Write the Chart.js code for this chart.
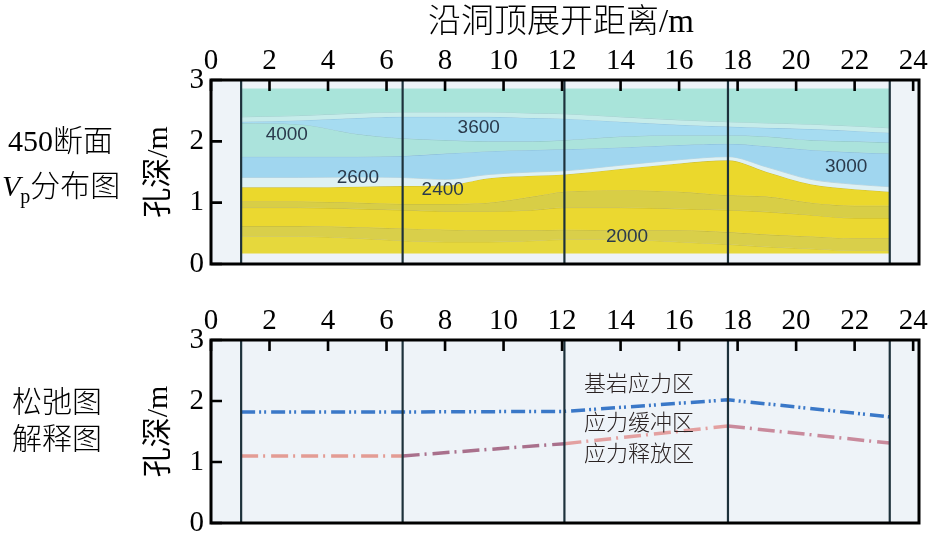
<!DOCTYPE html>
<html>
<head>
<meta charset="utf-8">
<script src="https://cdn.jsdelivr.net/npm/chart.js@4.4.0/dist/chart.umd.min.js"></script>
<style>
  html, body { margin: 0; padding: 0; background: #fff; }
  #wrap { position: relative; width: 929px; height: 533px; overflow: hidden;
          font-family: "Liberation Serif", serif; color: #000; }
  .box { position: absolute; left: 0; width: 929px; }
  #topBox { top: 0; height: 290px; }
  #botBox { top: 260px; height: 273px; }
  .lbl { position: absolute; white-space: nowrap; line-height: 1; font-size: 30px; }
  .cjk { font-family: "Noto Sans CJK SC", sans-serif; font-weight: 300; }
</style>
</head>
<body>
<div id="wrap">
  <div class="box" id="topBox"><canvas id="vpChart" width="929" height="290"></canvas></div>
  <div class="box" id="botBox"><canvas id="zoneChart" width="929" height="273"></canvas></div>
  <div class="lbl" style="left:428px;top:2px;font-size:33px;"><span class="cjk">沿洞顶展开距离</span>/m</div>
  <div class="lbl" style="left:8px;top:123px;">450<span class="cjk">断面</span></div>
  <div class="lbl" style="left:2px;top:168px;"><i>V</i><sub style="font-size:20px;">p</sub><span class="cjk">分布图</span></div>
  <div class="lbl cjk" style="left:12px;top:384px;">松弛图</div>
  <div class="lbl cjk" style="left:12px;top:421px;">解释图</div>
</div>
<script>
// Axis ticks (m)
const xTicks = [0, 2, 4, 6, 8, 10, 12, 14, 16, 18, 20, 22, 24];
const yTicks = [0, 1, 2, 3];

// Borehole positions along the tunnel crown (m)
const boreholeX = [1.03, 6.55, 12.08, 17.67, 23.2];

// Velocity section: depth (m) of each band boundary at these stations
const stationX    = [1.03, 3,    5,    6.55, 8,    9.5,  11,   12.08, 14,   16,   17.67, 19,   20.5, 22,   23.2];
const sectionTop  = [2.86, 2.86, 2.86, 2.86, 2.86, 2.86, 2.86, 2.86,  2.86, 2.86, 2.86,  2.86, 2.86, 2.86, 2.86];
const streakTop   = [2.40, 2.42, 2.46, 2.48, 2.48, 2.48, 2.46, 2.45,  2.40, 2.35, 2.32,  2.30, 2.28, 2.25, 2.22];
const v3600Top    = [2.32, 2.34, 2.38, 2.40, 2.40, 2.40, 2.38, 2.37,  2.32, 2.27, 2.24,  2.22, 2.20, 2.17, 2.14];
const v3600Bottom = [2.30, 2.28, 2.12, 2.05, 2.02, 2.00, 2.00, 2.02,  2.08, 2.10, 2.10,  2.08, 2.02, 2.00, 1.98];
const v3000Top    = [1.75, 1.75, 1.75, 1.76, 1.80, 1.84, 1.86, 1.87,  1.90, 1.94, 1.96,  1.92, 1.86, 1.82, 1.80];
const v2600Top    = [1.41, 1.41, 1.42, 1.41, 1.38, 1.46, 1.50, 1.52,  1.61, 1.70, 1.75,  1.58, 1.38, 1.30, 1.26];
const v2400Top    = [1.25, 1.25, 1.26, 1.27, 1.28, 1.40, 1.44, 1.46,  1.55, 1.64, 1.69,  1.50, 1.30, 1.22, 1.18];
const v2200Top    = [1.02, 1.02, 1.00, 0.98, 0.98, 1.00, 1.10, 1.18,  1.20, 1.18, 1.12,  1.10, 1.00, 0.95, 0.95];
const v2200Bottom = [0.92, 0.92, 0.90, 0.88, 0.86, 0.86, 0.88, 0.92,  0.92, 0.90, 0.88,  0.85, 0.80, 0.75, 0.75];
const v2000Top    = [0.62, 0.62, 0.60, 0.58, 0.56, 0.55, 0.55, 0.56,  0.55, 0.55, 0.52,  0.48, 0.45, 0.42, 0.42];
const v2000Bottom = [0.45, 0.45, 0.42, 0.38, 0.36, 0.36, 0.38, 0.40,  0.40, 0.36, 0.32,  0.28, 0.25, 0.22, 0.22];
const sectionBase = [0.17, 0.17, 0.17, 0.17, 0.17, 0.17, 0.17, 0.17,  0.17, 0.17, 0.17,  0.17, 0.17, 0.17, 0.17];

// Contour annotations (m/s) and where they sit in the section
const contourValues = ['4000', '3600', '2600', '2400', '2000', '3000'];
const contourX = [2.59, 9.15, 5.02, 7.92, 14.22, 21.71];
const contourY = [2.10, 2.22, 1.40, 1.21, 0.44, 1.58];

// Loosening zone interpretation: boundary depth (m) at each borehole
const bedrockBoundary = [1.82, 1.82, 1.83, 2.02, 1.74];
const releaseBoundary = [1.10, 1.10, 1.30, 1.59, 1.31];
const zoneNames = ['基岩应力区', '应力缓冲区', '应力释放区'];
const zoneLabelX = 14.63;
const zoneLabelY = [2.30, 1.66, 1.16];

// ---- styling ----
const boundaries = [sectionTop, streakTop, v3600Top, v3600Bottom, v3000Top, v2600Top,
                    v2400Top, v2200Top, v2200Bottom, v2000Top, v2000Bottom, sectionBase];
const bandFill = ['#a9e4da', '#c6ecea', '#a6dcf1', '#abe3dc', '#a0d6ef', '#def1f4',
                  '#ebd82c', '#d8ce46', '#ebd830', '#d9cf4a', '#e6d83c'];
const contourLine = ['rgba(0,0,0,0)', 'rgba(110,170,170,0.45)', 'rgba(120,170,200,0.5)',
                     'rgba(110,160,180,0.5)', 'rgba(110,160,190,0.5)', 'rgba(140,170,180,0.4)',
                     'rgba(170,160,60,0.5)', 'rgba(160,150,50,0.5)', 'rgba(160,150,50,0.5)',
                     'rgba(160,150,50,0.5)', 'rgba(160,150,60,0.4)', 'rgba(0,0,0,0)'];
const SERIF = '"Liberation Serif", serif';
const SERIF_CJK = '"Liberation Serif", "Noto Sans CJK SC", serif';
const PLOT_BG = '#eef3f8';

const toPts = (xs, ys) => xs.map((x, i) => ({ x, y: ys[i] }));

function boreholeSets() {
  return boreholeX.map(bx => ({
    type: 'line',
    data: [{ x: bx, y: 0 }, { x: bx, y: 3 }],
    borderColor: '#1d313b', borderWidth: 2.2, pointRadius: 0, fill: false, order: 0
  }));
}

// Frame, inward tick marks and plot background
const framePlugin = {
  id: 'framePlugin',
  beforeDraw(chart) {
    const { ctx, chartArea: a } = chart;
    ctx.save();
    ctx.fillStyle = PLOT_BG;
    ctx.fillRect(a.left, a.top, a.right - a.left, a.bottom - a.top);
    ctx.restore();
  },
  afterDraw(chart) {
    const { ctx, chartArea: a, scales } = chart;
    ctx.save();
    ctx.strokeStyle = '#000';
    ctx.lineWidth = 2.6;
    ctx.beginPath();
    xTicks.forEach(v => {
      const px = scales.x.getPixelForValue(v);
      ctx.moveTo(px, a.top); ctx.lineTo(px, a.top + 11);
    });
    yTicks.forEach(v => {
      const py = scales.y.getPixelForValue(v);
      ctx.moveTo(a.left, py); ctx.lineTo(a.left + 11, py);
    });
    ctx.stroke();
    ctx.lineWidth = 3;
    ctx.strokeRect(a.left, a.top, a.right - a.left, a.bottom - a.top);
    ctx.restore();
  }
};

// Text labels placed at data coordinates
const textPlugin = {
  id: 'textPlugin',
  afterDatasetsDraw(chart, args, opts) {
    if (!opts.items) return;
    const { ctx, scales } = chart;
    ctx.save();
    ctx.font = opts.font;
    ctx.fillStyle = opts.color;
    ctx.textAlign = 'center';
    ctx.textBaseline = 'middle';
    opts.items.forEach(it => {
      ctx.fillText(it.text, scales.x.getPixelForValue(it.x), scales.y.getPixelForValue(it.y));
    });
    ctx.restore();
  }
};

function scaleOptions() {
  return {
    x: {
      type: 'linear', position: 'top', min: 0, max: 24.2,
      afterBuildTicks: s => { s.ticks = xTicks.map(v => ({ value: v })); },
      afterFit: s => { s.height = 80; s.paddingLeft = 0; s.paddingRight = 0; },
      grid: { display: false, drawTicks: false }, border: { display: false },
      ticks: { color: '#000', padding: 4, maxRotation: 0, autoSkip: false,
               font: { family: SERIF, size: 29, lineHeight: 1 } }
    },
    y: {
      type: 'linear', position: 'left', min: 0, max: 3,
      afterBuildTicks: s => { s.ticks = yTicks.map(v => ({ value: v })); },
      afterFit: s => { s.width = 211; s.paddingTop = 0; s.paddingBottom = 0; },
      grid: { display: false, drawTicks: false }, border: { display: false },
      ticks: { color: '#000', padding: 7, font: { family: SERIF, size: 29, lineHeight: 1 } },
      title: { display: true, text: '孔深/m', color: '#000', padding: { top: 141, bottom: 0 },
               font: { family: SERIF_CJK, size: 30, lineHeight: 1.2 } }
    }
  };
}

const baseOptions = (extraPlugins) => ({
  responsive: false, animation: false, events: [],
  layout: { padding: { left: 0, top: 0, right: 10, bottom: 0 } },
  plugins: Object.assign({ legend: { display: false }, tooltip: { enabled: false } }, extraPlugins),
  scales: scaleOptions()
});

// ---- Vp section ----
const bandSets = boundaries.map((ys, i) => ({
  type: 'line',
  data: toPts(stationX, ys),
  borderWidth: 1, borderColor: contourLine[i], pointRadius: 0,
  cubicInterpolationMode: 'monotone',
  backgroundColor: bandFill[i] || 'rgba(0,0,0,0)',
  fill: i < boundaries.length - 1 ? '+1' : false,
  order: 1
}));

const vpOpts = baseOptions({
  textPlugin: {
    font: '19px "Liberation Sans", sans-serif', color: '#2a3a4c',
    items: contourValues.map((t, i) => ({ text: t, x: contourX[i], y: contourY[i] }))
  }
});
vpOpts.layout.padding.bottom = 26;

new Chart(document.getElementById('vpChart'), {
  type: 'line',
  data: { datasets: [...boreholeSets(), ...bandSets] },
  options: vpOpts,
  plugins: [framePlugin, textPlugin]
});

// ---- Loosening zone interpretation ----
const zoneOpts = baseOptions({
  textPlugin: {
    font: '300 22px "Noto Sans CJK SC", sans-serif', color: '#2a2222',
    items: zoneNames.map((t, i) => ({ text: t, x: zoneLabelX, y: zoneLabelY[i] }))
  }
});
zoneOpts.layout.padding.bottom = 10;

const releaseSegColors = ['#e39c94', '#a9708c', '#e3a0a0', '#c98a9c'];

new Chart(document.getElementById('zoneChart'), {
  type: 'line',
  data: {
    datasets: [
      ...boreholeSets(),
      {
        data: toPts(boreholeX, bedrockBoundary),
        borderColor: '#3a78c8', borderWidth: 3.5, borderDash: [14, 4, 2, 3, 2, 5],
        pointRadius: 0, fill: false, tension: 0, order: 1
      },
      {
        data: toPts(boreholeX, releaseBoundary),
        borderColor: '#e39c94', borderWidth: 3.5, borderDash: [17, 5, 2, 6],
        segment: { borderColor: c => releaseSegColors[c.p0DataIndex] },
        pointRadius: 0, fill: false, tension: 0, order: 1
      }
    ]
  },
  options: zoneOpts,
  plugins: [framePlugin, textPlugin]
});
</script>
</body>
</html>
